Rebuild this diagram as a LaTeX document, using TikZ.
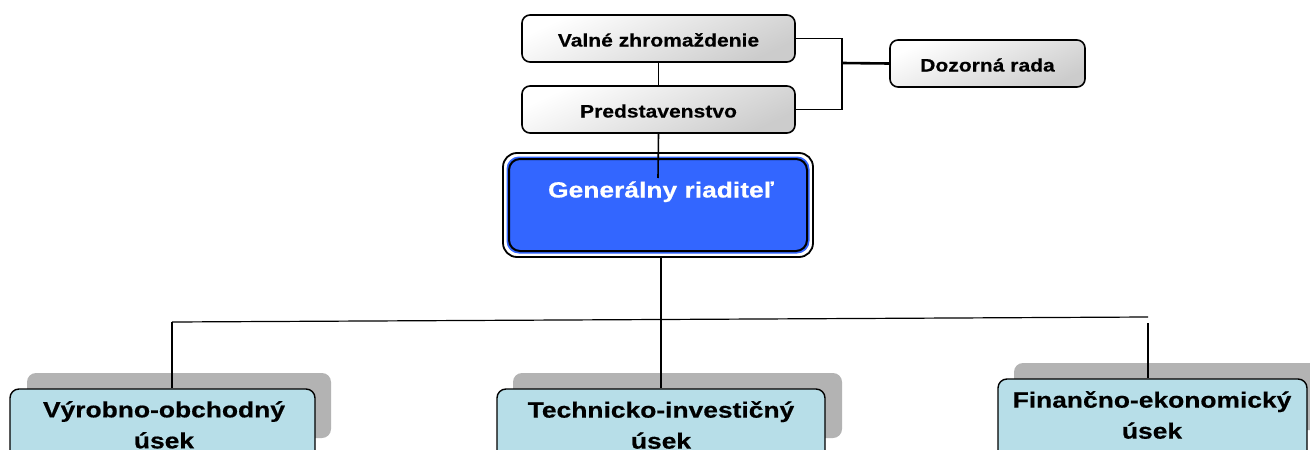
\documentclass[tikz,border=0pt]{standalone}
\usepackage{fontspec}
\setmainfont{Liberation Sans}
\newfontfamily\topfont[FakeStretch=1.17,FakeBold=0.4]{Liberation Sans}
\newfontfamily\unitfont[FakeStretch=1.2,FakeBold=0.5]{Liberation Sans}
\definecolor{grblue}{HTML}{3366FF}
\definecolor{unitcyan}{HTML}{B7DEE8}
\definecolor{shadowgrey}{HTML}{B3B3B3}
\begin{document}
\begin{tikzpicture}[x=1pt,y=-1pt,
  topbox/.style={draw=black, line width=1.6pt, rounded corners=8pt, top color=white, bottom color=black!20, shading angle=25, minimum width=273pt, minimum height=47pt, inner sep=0pt},
  unitbox/.style={draw=black, line width=1.4pt, rounded corners=9pt, fill=unitcyan, minimum width=305pt, minimum height=82pt, inner sep=0pt},
  shadowbox/.style={fill=shadowgrey, rounded corners=9pt},
  toptext/.style={font=\topfont\bfseries\fontsize{18}{20}\selectfont, anchor=base, inner sep=0pt},
  unittext/.style={font=\unitfont\bfseries\fontsize{22}{31}\selectfont, align=center, anchor=north, inner sep=0pt},
  conn/.style={line width=1.6pt},
  thinconn/.style={line width=1.2pt}
]
\useasboundingbox (0,0) rectangle (1310,450);
\clip (0,0) rectangle (1310,450);

% top boxes
\node[topbox] (vz) at (658.5,38.5) {};
\node[toptext] (vzt) at (658.5,46.5) {Valné zhromaždenie};
\node[topbox] (pr) at (658.5,109.5) {};
\node[toptext] (prt) at (658.5,117.5) {Predstavenstvo};
\node[topbox, minimum width=195pt] (dr) at (987.5,63.5) {};
\node[toptext] (drt) at (987.5,71.5) {Dozorná rada};

% general director
\node[draw=black, line width=1.8pt, rounded corners=14pt, fill=white, minimum width=310pt, minimum height=104pt] (gr) at (658,205) {};
\node[draw=grblue, line width=1pt, rounded corners=12pt, fill=grblue, minimum width=302pt, minimum height=96pt] (grin) at (658,205) {};
\node[draw=black, line width=2pt, rounded corners=11pt, fill=grblue, minimum width=298pt, minimum height=92pt] (grcore) at (658,205) {};

% connectors top
\coordinate (j) at (842,63);
\coordinate (grtop) at (658,178);
\draw[conn] (vz.south) -- (pr.north);
\draw[conn] (vz.east) -- (vz.east -| j) -- (pr.east -| j) -- (pr.east);
\draw[line width=2.6pt] (j) -- (dr.west);
\draw[conn] (pr.south) -- (grtop);
\node[font=\unitfont\bfseries\fontsize{22}{25}\selectfont, text=white, anchor=base, inner sep=0pt] (grt) at (661,197.5) {Generálny riaditeľ};

% unit boxes with shadows
\fill[shadowbox] (27,373) rectangle (331,438);
\fill[shadowbox] (513,373) rectangle (842,438);
\fill[shadowbox] (1014,363) rectangle (1340,430);
\node[unitbox] (vo) at (162.5,430) {};
\node[unitbox, minimum width=328pt] (ti) at (661,430) {};
\node[unitbox, minimum width=309pt] (fe) at (1152.5,420) {};
\node[unittext] (vot) at (164,401) {Výrobno-obchodný\\úsek};
\node[unittext] (tit) at (661,401) {Technicko-investičný\\úsek};
\node[unittext] (fet) at (1152,391) {Finančno-ekonomický\\úsek};

% lower connectors
\coordinate (hl) at (172,322);
\coordinate (hr) at (1148,317);
\coordinate (hrv) at (1148,323);
\draw[line width=2.4pt] (gr.south -| ti.north) -- (ti.north);
\draw[thinconn] (hl) -- (hr);
\draw[thinconn] (hl) -- (hl |- vo.north);
\draw[thinconn] (hrv) -- (hrv |- fe.north);
\end{tikzpicture}
\end{document}
